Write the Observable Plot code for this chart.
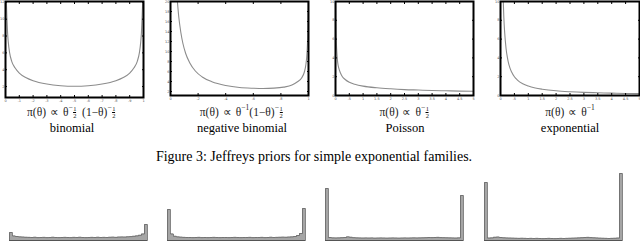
<!DOCTYPE html>
<html><head><meta charset="utf-8">
<script src="https://cdn.jsdelivr.net/npm/d3@7"></script>
<script src="https://cdn.jsdelivr.net/npm/@observablehq/plot@0.6"></script>
<style>
body{margin:0;background:#fff;}
#root{position:relative;width:640px;height:242px;overflow:hidden;font-family:"Liberation Serif","Times New Roman",serif;color:#000;}
.abs{position:absolute;}
.lab{position:absolute;text-align:center;white-space:nowrap;transform:translateX(-50%);}
.formula{font-size:11.5px;line-height:12px;color:#222;}
.name{font-size:12.5px;line-height:14px;}
.caption{font-size:14px;line-height:16px;}
.sp{display:inline-block;width:4px;}
.sup{font-size:7.5px;vertical-align:6px;}
.fr{display:inline-flex;flex-direction:column;font-size:6.5px;line-height:6px;vertical-align:5px;text-align:center;margin-left:0.5px;margin-right:1.5px;}
.fr span:first-child{border-bottom:0.6px solid #000;}
svg{overflow:visible;}
</style></head><body><div id="root"></div><script>
// ---- Top row: Jeffreys priors ----
const binomTheta = [0.006,0.01,0.015,0.02,0.03,0.045,0.07,0.1,0.15,0.2,0.3,0.4,0.5,0.6,0.7,0.8,0.85,0.9,0.93,0.955,0.97,0.98,0.985,0.99,0.994];
const binomPrior = [12.1,10.2,8.4,7.3,6.0,5.0,4.2,3.6,3.05,2.7,2.3,2.1,2.03,2.1,2.3,2.7,3.05,3.6,4.2,5.0,6.0,7.3,8.4,10.2,12.1];
const negbinTheta = [0.05,0.06,0.075,0.09,0.11,0.14,0.18,0.23,0.3,0.4,0.5,0.6,0.67,0.75,0.82,0.88,0.92,0.95,0.97,0.98,0.99,0.994,0.9975];
const negbinPrior = [20.0,16.9,13.8,11.6,9.6,7.7,6.1,4.9,3.95,3.2,2.8,2.65,2.6,2.67,2.87,3.28,3.95,4.7,5.9,7.2,10.1,13.0,20.0];
const poisTheta = [0.01,0.015,0.02,0.03,0.04,0.06,0.08,0.12,0.18,0.25,0.35,0.5,0.7,1,1.5,2,2.5,3,3.5,4,4.5,5];
const poisPrior = [10,8.2,7.1,5.8,5.0,4.1,3.5,2.9,2.4,2.0,1.7,1.41,1.2,1.0,0.82,0.71,0.63,0.58,0.53,0.5,0.47,0.45];
const expoTheta = [0.1,0.12,0.15,0.2,0.25,0.3,0.4,0.5,0.6,0.8,1,1.25,1.5,2,2.5,3,3.5,4,4.5,5];
const expoPrior = [10,8.3,6.7,5,4,3.3,2.5,2,1.67,1.25,1,0.8,0.67,0.5,0.4,0.33,0.29,0.25,0.22,0.2];

const binomXTicks = [0,0.1,0.2,0.3,0.4,0.5,0.6,0.7,0.8,0.9,1];
const binomYTicks = [2,4,6,8,10,12];
const negbinXTicks = [0,0.2,0.4,0.6,0.8,1];
const negbinYTicks = [2,4,6,8,10,12,14,16,18,20];
const rateXTicks = [0,0.5,1,1.5,2,2.5,3,3.5,4,4.5,5];
const rateYTicks = [0,2,4,6,8,10];

const panelNames = ["binomial","negative binomial","Poisson","exponential"];
const caption = "Figure 3: Jeffreys priors for simple exponential families.";

// ---- Bottom row: histograms (heights) ----
const hist1 = [8,4.5,4,3.6,3.4,3.2,3.1,3,3.2,2.9,3,3.1,2.9,3,3.2,3,2.9,3,3.1,3,2.9,3.1,3,3.2,3,2.9,3,3.1,3,3.2,3,3.1,3,3.2,3.3,3.1,3.4,3.5,3.4,3.7,3.9,4.2,4.6,5.2,6.5,16];
const hist2 = [31,6.5,4.2,3.6,3.3,3.1,3,3,2.9,3,3.1,2.9,3,2.9,3,3.1,3,2.9,3,3,2.9,3,3.1,3,2.9,3,3,3.1,2.9,3,3,3.1,2.9,3,3.2,3,3.1,3.2,3.3,3.2,3.4,3.6,4,5,7,32];
const hist3 = [52,3,2.6,2.5,2.6,2.8,3,3.6,3.2,2.8,2.6,2.5,2.4,2.5,2.4,2.5,2.3,2.4,2.5,2.4,2.3,2.4,2.5,2.4,2.3,2.4,2.5,2.4,2.5,2.6,2.5,2.6,2.7,2.8,3,2.9,3,3.1,2.9,2.8,2.7,2.6,2.5,2.4,2.6,45];
const hist4 = [58,2.4,2.6,3.2,3.4,3,2.7,2.5,2.4,2.3,2.2,2.1,2.2,2.1,2,2.1,2,2.1,2,1.9,2,2.1,2,1.9,2,2.1,2,2.1,2.2,2.3,2.4,2.6,2.8,3,3.1,2.9,2.7,2.5,2.3,2.2,2.1,2,2.1,2.2,2.4,67];

const root = document.getElementById("root");
function place(el, left, top){
  const d = document.createElement("div");
  d.className = "abs"; d.style.left = left + "px"; d.style.top = top + "px";
  d.appendChild(el); root.appendChild(d);
}
const fmt = d => String(d).replace(/^0\./, ".");

function topPanel(theta, prior, xDomain, yDomain, xTicks, yTicks, geo){
  const data = theta.map((t, i) => ({t, v: prior[i]}));
  return Plot.plot({
    width: geo.width, height: 104,
    marginLeft: geo.ml, marginRight: geo.mr, marginTop: 1, marginBottom: geo.mb,
    x: {domain: xDomain, label: null},
    y: {domain: yDomain, label: null},
    style: {background: "transparent", fontFamily: "DejaVu Sans"},
    marks: [
      Plot.line(data, {x: "t", y: "v", stroke: "#8c8c8c", strokeWidth: 1.1, curve: "monotone-x", clip: true}),
      Plot.axisX(xTicks, {anchor: "bottom", tickSize: -2, tickPadding: 4, fontSize: 3.5, fill: "#555", tickFormat: fmt, label: null}),
      Plot.axisX(xTicks, {anchor: "top", tickSize: -2, tickFormat: () => "", label: null}),
      Plot.axisY(yTicks, {anchor: "left", tickSize: -2, tickPadding: 3, fontSize: 3.5, fill: "#555", label: null}),
      Plot.axisY(yTicks, {anchor: "right", tickSize: -2, tickFormat: () => "", label: null}),
      Plot.frame({stroke: "#000", strokeWidth: 2})
    ]
  });
}

place(topPanel(binomTheta, binomPrior, [0,1], [0.7,12.1], binomXTicks, binomYTicks, {width:150, ml:5, mr:7, mb:7}), 0, 0);
place(topPanel(negbinTheta, negbinPrior, [0,1], [1.2,20.0], negbinXTicks, negbinYTicks, {width:150, ml:10, mr:2, mb:9}), 160, 0);
place(topPanel(poisTheta, poisPrior, [0,5], [0,10], rateXTicks, rateYTicks, {width:160, ml:15, mr:7, mb:9}), 320, 0);
place(topPanel(expoTheta, expoPrior, [0,5], [0,10], rateXTicks, rateYTicks, {width:160, ml:20, mr:1, mb:9}), 480, 0);

// Labels under the top panels
const fr = '<span class="fr"><span>1</span><span>2</span></span>';
const half = '<span class="sup">−</span>' + fr;
const formulas = [
  'π(θ)<span class="sp"></span>∝<span class="sp"></span>θ' + half + '<span class="sp"></span>(1−θ)' + half,
  'π(θ)<span class="sp"></span>∝<span class="sp"></span>θ<span class="sup">−1</span>(1−θ)' + half,
  'π(θ)<span class="sp"></span>∝<span class="sp"></span>θ' + half,
  'π(θ)<span class="sp"></span>∝<span class="sp"></span>θ<span class="sup">−1</span>'
];
const centers = [72, 242, 405, 570];
centers.forEach((cx, i) => {
  const f = document.createElement("div");
  f.className = "lab formula"; f.style.left = cx + "px"; f.style.top = "102px";
  f.innerHTML = formulas[i]; root.appendChild(f);
  const n = document.createElement("div");
  n.className = "lab name"; n.style.left = cx + "px"; n.style.top = "121px";
  n.textContent = panelNames[i]; root.appendChild(n);
});
const cap = document.createElement("div");
cap.className = "lab caption"; cap.style.left = "314px"; cap.style.top = "149px";
cap.textContent = caption; root.appendChild(cap);

function histPanel(h, geo){
  const data = h.map((v, i) => ({x1: i, x2: i + 1, y: v}));
  const n = h.length;
  const outline = [{x: 0, y: 0}, ...h.map((v, i) => ({x: i, y: v})), {x: n, y: h[n - 1]}, {x: n, y: 0}];
  return Plot.plot({
    width: 160, height: 74, marginLeft: geo.ml, marginRight: 160 - geo.ml - 138, marginTop: 2, marginBottom: 2,
    x: {domain: [0, n], axis: null},
    y: {domain: [0, 70], axis: null},
    style: {background: "transparent"},
    marks: [
      Plot.rectY(data, {x1: "x1", x2: "x2", y: "y", fill: "#a5a5a5", insetLeft: 0, insetRight: 0}),
      Plot.line(outline, {x: "x", y: "y", curve: "step-after", stroke: "#666", strokeWidth: 0.8}),
      Plot.ruleY([0], {stroke: "#555", strokeWidth: 1.2})
    ]
  });
}
place(histPanel(hist1, {ml: 9}), 0, 168);
place(histPanel(hist2, {ml: 7}), 160, 168);
place(histPanel(hist3, {ml: 5}), 320, 168);
place(histPanel(hist4, {ml: 4}), 480, 168);
</script></body></html>
